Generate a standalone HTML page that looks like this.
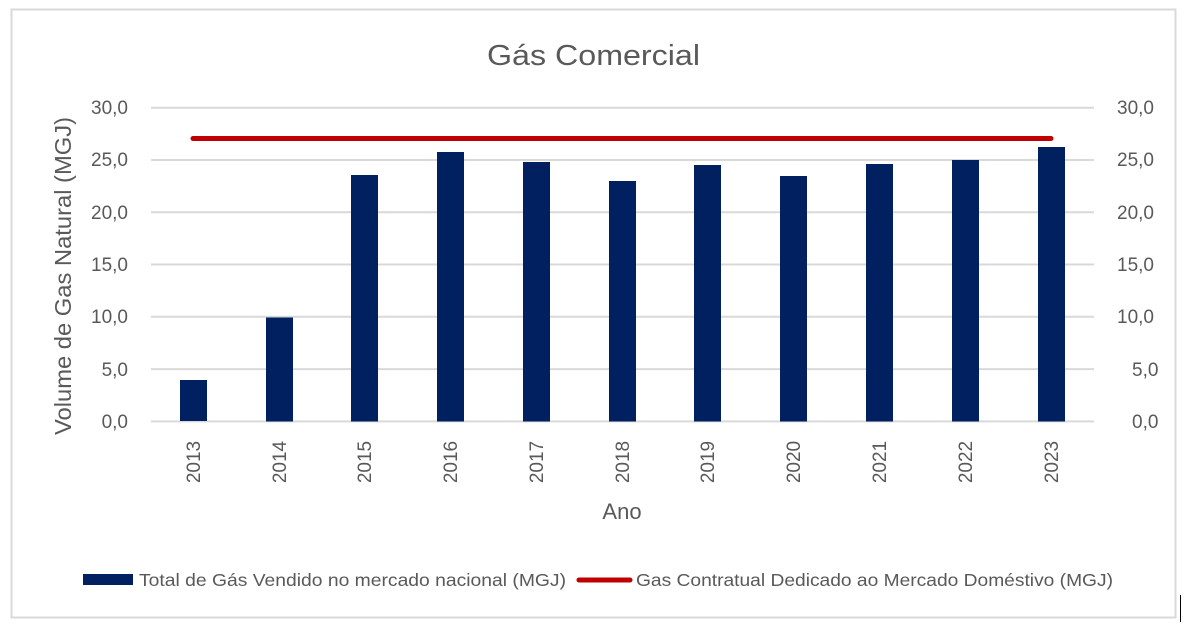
<!DOCTYPE html>
<html><head><meta charset="utf-8"><style>
html,body{margin:0;padding:0;background:#fff;}
svg{display:block;font-family:"Liberation Sans",sans-serif;}
</style></head><body>
<svg width="1186" height="627" viewBox="0 0 1186 627" xmlns="http://www.w3.org/2000/svg">
<rect x="0" y="0" width="1186" height="627" fill="#fff"/>
<rect x="11.5" y="9.5" width="1164" height="608" fill="none" stroke="#d9d9d9" stroke-width="2"/>
<line x1="1180.5" y1="595" x2="1180.5" y2="622" stroke="#000" stroke-width="1"/>
<text x="487" y="65" font-size="29" fill="#595959" textLength="213" lengthAdjust="spacingAndGlyphs">Gás Comercial</text>
<g stroke="#d9d9d9" stroke-width="2">
<line x1="151" y1="107.7" x2="1094" y2="107.7"/>
<line x1="151" y1="160" x2="1094" y2="160"/>
<line x1="151" y1="212.2" x2="1094" y2="212.2"/>
<line x1="151" y1="264.5" x2="1094" y2="264.5"/>
<line x1="151" y1="316.8" x2="1094" y2="316.8"/>
<line x1="151" y1="369.1" x2="1094" y2="369.1"/>
<line x1="151" y1="421.4" x2="1094" y2="421.4"/>
</g>
<g font-size="19" fill="#595959" text-anchor="end">
<text x="128" y="114">30,0</text><text x="128" y="166">25,0</text><text x="128" y="219">20,0</text>
<text x="128" y="271">15,0</text><text x="128" y="323">10,0</text><text x="128" y="376">5,0</text><text x="128" y="428">0,0</text>
</g>
<g font-size="19" fill="#595959" text-anchor="start">
<text x="1117" y="114">30,0</text><text x="1117" y="166">25,0</text><text x="1117" y="219">20,0</text>
<text x="1117" y="271">15,0</text><text x="1117" y="323">10,0</text><text x="1132" y="376">5,0</text><text x="1132" y="428">0,0</text>
</g>
<text transform="translate(71,435) rotate(-90)" font-size="23" fill="#595959" textLength="318" lengthAdjust="spacingAndGlyphs">Volume de Gas Natural (MGJ)</text>
<g fill="#002060">
<rect x="180" y="380" width="27" height="41"/>
<rect x="266" y="317.5" width="27" height="104"/>
<rect x="351" y="175" width="27" height="246.5"/>
<rect x="437" y="152" width="27" height="269.5"/>
<rect x="523" y="162" width="27" height="259.5"/>
<rect x="609" y="181" width="27" height="240.5"/>
<rect x="694" y="165" width="27" height="256.5"/>
<rect x="780" y="176" width="27" height="245.5"/>
<rect x="866" y="164" width="27" height="257.5"/>
<rect x="952" y="160" width="27" height="261.5"/>
<rect x="1038" y="147" width="27" height="274.5"/>
</g>
<line x1="193" y1="138.5" x2="1051" y2="138.5" stroke="#c00000" stroke-width="5" stroke-linecap="round"/>
<g font-size="19" fill="#595959" text-anchor="middle">
<text transform="translate(200,462) rotate(-90)">2013</text>
<text transform="translate(286,462) rotate(-90)">2014</text>
<text transform="translate(371,462) rotate(-90)">2015</text>
<text transform="translate(457,462) rotate(-90)">2016</text>
<text transform="translate(543,462) rotate(-90)">2017</text>
<text transform="translate(629,462) rotate(-90)">2018</text>
<text transform="translate(714,462) rotate(-90)">2019</text>
<text transform="translate(800,462) rotate(-90)">2020</text>
<text transform="translate(886,462) rotate(-90)">2021</text>
<text transform="translate(972,462) rotate(-90)">2022</text>
<text transform="translate(1058,462) rotate(-90)">2023</text>
</g>
<text x="622" y="519" font-size="22" fill="#595959" text-anchor="middle">Ano</text>
<rect x="83" y="574" width="50" height="11" fill="#002060"/>
<text x="139" y="586" font-size="17.5" fill="#595959" textLength="427" lengthAdjust="spacingAndGlyphs">Total de Gás Vendido no mercado nacional (MGJ)</text>
<line x1="579" y1="580" x2="630" y2="580" stroke="#c00000" stroke-width="5" stroke-linecap="round"/>
<text x="636" y="586" font-size="17.5" fill="#595959" textLength="477" lengthAdjust="spacingAndGlyphs">Gas Contratual Dedicado ao Mercado Doméstivo (MGJ)</text>
</svg>
</body></html>
